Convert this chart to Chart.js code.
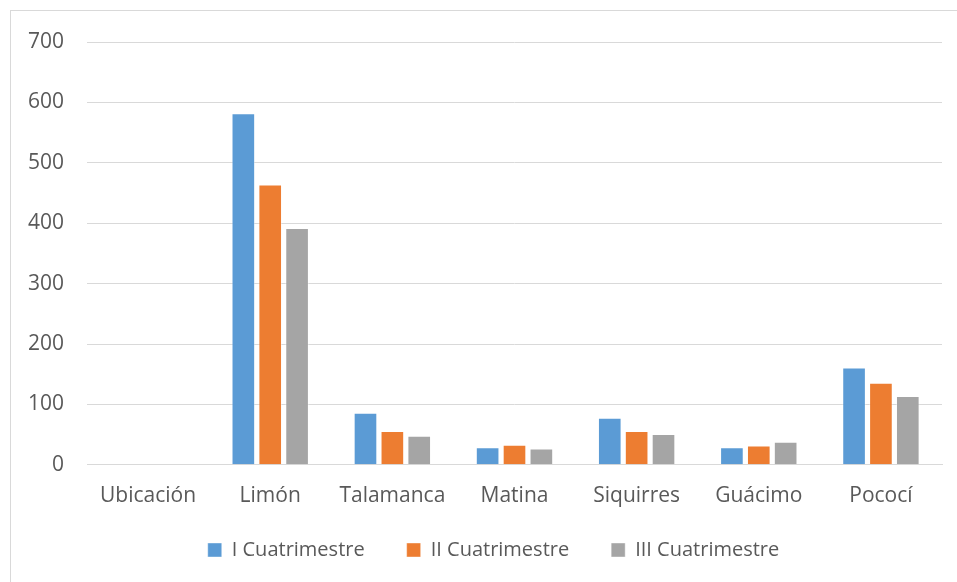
<!DOCTYPE html>
<html>
<head>
<meta charset="utf-8">
<script src="https://cdn.jsdelivr.net/npm/chart.js@4"></script>
<style>
  html, body { margin: 0; padding: 0; background: #fff; }
  #frame { position: absolute; left: 10px; top: 10px; width: 960px; height: 590px; border: 1px solid #d9d9d9; box-sizing: border-box; }
  #wrap { position: absolute; left: 0; top: 0; width: 957px; height: 582px; }
</style>
</head>
<body>
<div id="frame"></div>
<div id="wrap"><canvas id="myChart"></canvas></div>
<script>
const categorias = ['Ubicación', 'Limón', 'Talamanca', 'Matina', 'Siquirres', 'Guácimo', 'Pococí'];
const series = ['I Cuatrimestre', 'II Cuatrimestre', 'III Cuatrimestre'];
const primero = [null, 582, 86, 29, 78, 29, 161];
const segundo = [null, 464, 56, 33, 56, 32, 136];
const tercero = [null, 392, 48, 27, 51, 38, 114];
const colores = ['#5B9BD5', '#ED7D31', '#A5A5A5'];

// más separación horizontal entre items sin el hueco vertical que trae el padding
const ajusteLeyenda = {
    id: 'ajusteLeyenda',
    afterInit(chart) {
        const legend = chart.legend;
        const recorte = 22;
        const fit = legend.fit;
        legend.fit = function () {
            fit.call(this);
            this.height -= recorte;
        };
        const draw = legend.draw;
        legend.draw = function (area) {
            const c = this.ctx;
            this.top -= recorte;
            c.save();
            c.translate(12, 0);
            draw.call(this, area);
            c.restore();
            this.top += recorte;
        };
    }
};

const ctx = document.getElementById('myChart');

new Chart(ctx, {
    type: 'bar',
    data: {
        labels: categorias,
        datasets: [primero, segundo, tercero].map((valores, i) => ({
            label: series[i],
            data: valores,
            backgroundColor: colores[i],
            borderColor: 'rgba(255,255,255,0.4)',
            borderWidth: 1,
            barPercentage: 0.88,
            categoryPercentage: 0.66
        }))
    },
    options: {
        responsive: true,
        maintainAspectRatio: false,
        animation: false,
        layout: { padding: { top: 42, right: 15, left: 21, bottom: 12 } },
        plugins: {
            legend: {
                position: 'bottom',
                labels: {
                    font: { family: 'Open Sans', size: 20 },
                    color: '#595959',
                    boxWidth: 14,
                    boxHeight: 14,
                    padding: 42
                }
            },
            tooltip: { enabled: false }
        },
        scales: {
            x: {
                grid: { display: false },
                border: { color: '#d9d9d9' },
                ticks: { font: { family: 'Open Sans', size: 21 }, color: '#595959', padding: 11 }
            },
            y: {
                min: 0,
                max: 700,
                ticks: { stepSize: 100, font: { family: 'Open Sans', size: 21 }, color: '#595959', padding: 23 },
                grid: { color: '#d9d9d9', drawTicks: false },
                border: { display: false },
                afterFit: (scale) => { scale.width = 66; }
            }
        }
    },
    plugins: [ajusteLeyenda]
});
</script>
</body>
</html>
